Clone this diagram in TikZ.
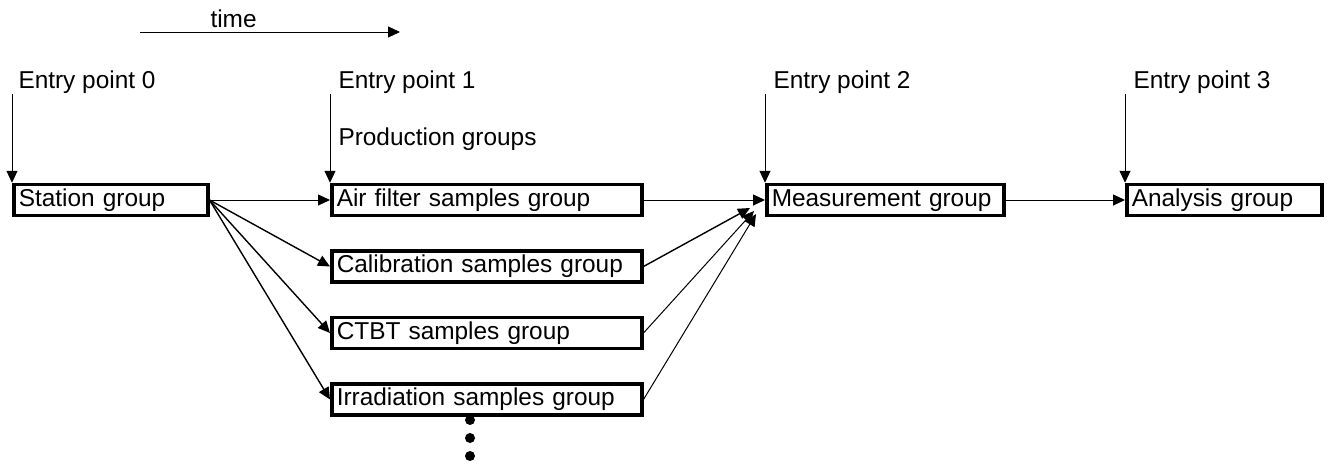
\documentclass[tikz,border=0pt]{standalone}
\usepackage{fontspec}
\setmainfont{Liberation Sans}
\usetikzlibrary{chains,positioning,arrows.meta}

\begin{document}
\begin{tikzpicture}[x=1pt,y=-1pt]
	\tikzstyle{every path}=[line width=1pt]
	\tikzstyle{every node}=[font=\fontsize{24.4}{29}\selectfont]
	\tikzstyle{grpbox}=[draw,line width=3.5pt,minimum height=31pt,inner xsep=5pt,inner ysep=2pt,text height=17pt,text depth=5pt,align=left]
	\tikzstyle{entry}=[anchor=base west,inner sep=0pt]
	\tikzstyle{flow}=[-{Triangle[length=12pt,width=11pt]}]
	\tikzstyle{fan}=[flow,line width=1.4pt]

	\useasboundingbox (0,0) rectangle (1329,466);

	%% time axis
	\node [entry] (timelbl) at (210,27) {time};
	\coordinate (t0) at (140,32);
	\coordinate (t1) at (400,32);
	\draw [flow] (t0) -- (t1);

	%% Draw groups
	\node [grpbox,anchor=west,text width=184pt] (station) at (12,200) {Station group};

	\begin{scope}[start chain=prod going below,node distance=32pt]
	\node [on chain=prod,grpbox,anchor=west,text width=300pt] (air) at (330,200) {Air filter samples group};
	\node [on chain=prod,grpbox,text width=300pt] (cal) {Calibration samples group};
	\node [on chain=prod,grpbox,text width=300pt] (ctbt) {CTBT samples group};
	\node [on chain=prod,grpbox,text width=300pt] (irr) {Irradiation samples group};
	\end{scope}

	\node [grpbox,anchor=west,text width=227pt] (meas) at (765,200) {Measurement group};
	\node [grpbox,anchor=west,text width=185pt] (ana) at (1125,200) {Analysis group};

	%% more production groups
	\foreach \y in {420,438,456}
		\fill (470,\y) circle (5pt);

	%% Entry points
	\node [entry] (ep0) at (18,88) {Entry point 0};
	\node [entry] (ep1) at (338,88) {Entry point 1};
	\node [entry] (ep2) at (773,88) {Entry point 2};
	\node [entry] (ep3) at (1133,88) {Entry point 3};
	\node [entry] (prodlbl) at (338,145) {Production groups};

	\draw [flow] (station.north west |- ep0.south) -- (station.north west);
	\draw [flow] (air.north west |- ep1.south) -- (air.north west);
	\draw [flow] (meas.north west |- ep2.south) -- (meas.north west);
	\draw [flow] (ana.north west |- ep3.south) -- (ana.north west);

	%% Flow of samples
	\draw [flow] (station.east) -- (air.west);
	\foreach \g in {cal,ctbt,irr}
		\draw [fan] (station.east) -- (\g.west);

	\coordinate (m1) at (750,208);
	\coordinate (m2) at (754,211);
	\coordinate (m3) at (756,214);
	\draw [flow] (air.east) -- (meas.west);
	\draw [fan] (cal.east) -- (m1);
	\draw [flow] (ctbt.east) -- (m2);
	\draw [flow] (irr.east) -- (m3);

	\draw [flow] (meas.east) -- (ana.west);
\end{tikzpicture}
\end{document}
